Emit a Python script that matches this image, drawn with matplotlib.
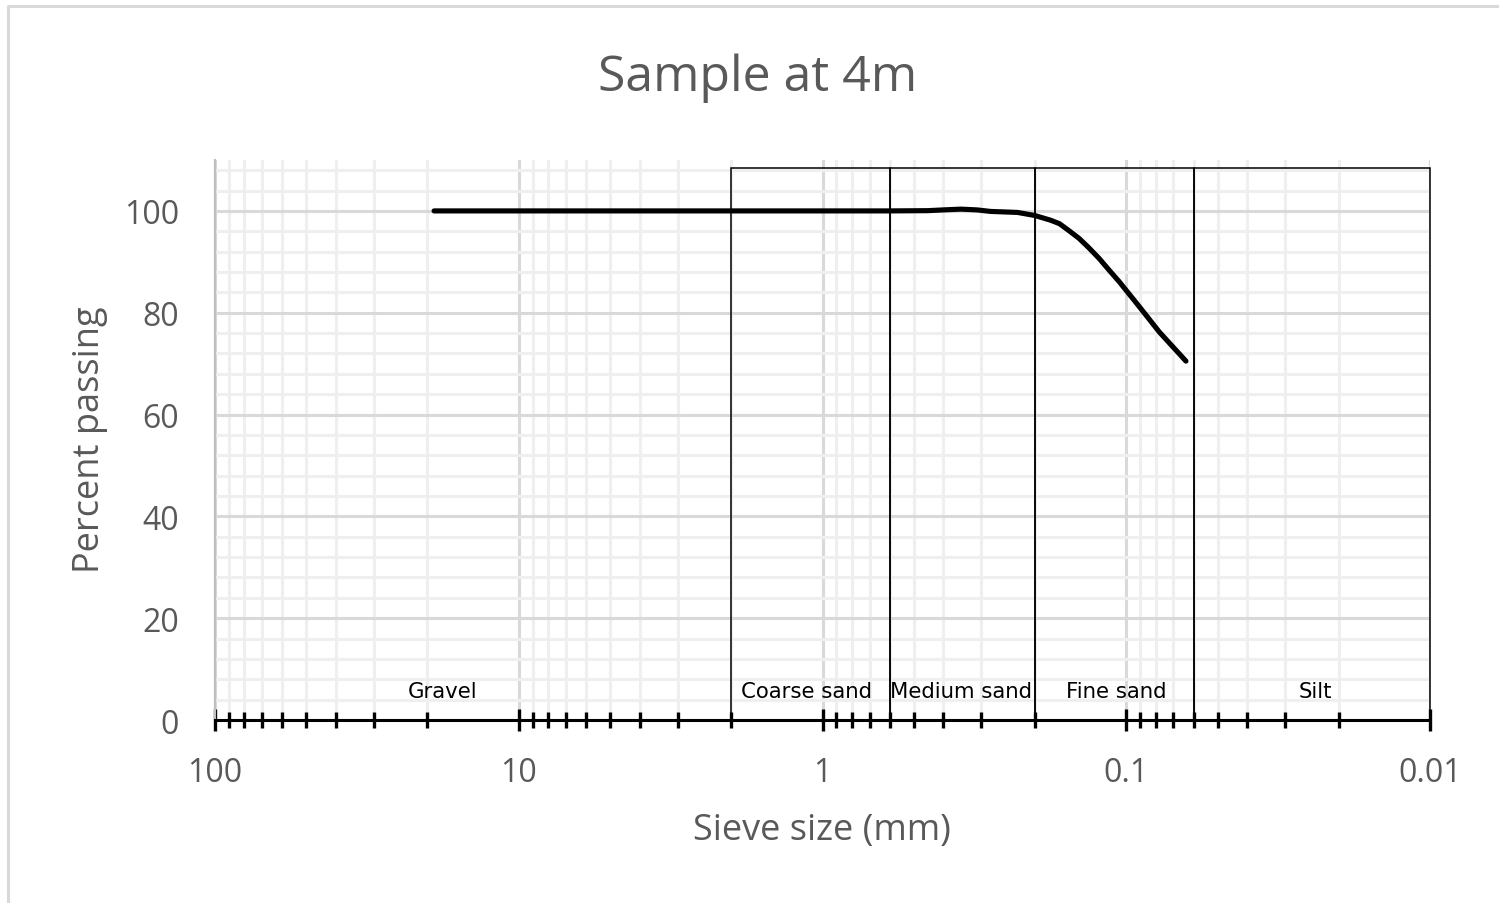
import matplotlib
matplotlib.use("Agg")
import matplotlib.pyplot as plt
from matplotlib.patches import Rectangle
from matplotlib.ticker import LogLocator, MultipleLocator, FixedLocator, NullFormatter
from matplotlib.lines import Line2D

# grading curve
sieve_mm = [19, 9.5, 4.75, 2.36, 1.18, 0.6, 0.45, 0.40, 0.35, 0.31, 0.28, 0.228,
            0.2, 0.19, 0.178, 0.166, 0.155, 0.143, 0.133, 0.123, 0.114, 0.1055,
            0.0906, 0.0778, 0.0636]
passing = [100, 100, 100, 100, 100, 100, 100.05, 100.2, 100.35, 100.2, 99.9, 99.7,
           99.1, 98.7, 98.2, 97.5, 96.2, 94.6, 92.8, 90.7, 88.4, 86.1,
           81.2, 76.2, 70.5]

# soil classes
zone_names = ["Coarse sand", "Medium sand", "Fine sand", "Silt"]
zone_from = [2.0, 0.6, 0.2, 0.06]
zone_to = [0.6, 0.2, 0.06, 0.01]
zone_top = 108.5

label_names = ["Gravel", "Coarse sand", "Medium sand", "Fine sand", "Silt"]
label_x = [17.8, 1.13, 0.349, 0.108, 0.0239]
label_y = 5.6

major_x = [100, 10, 1, 0.1, 0.01]
major_x_labels = ["100", "10", "1", "0.1", "0.01"]

grey_text = "#595959"
excel_font = ["Open Sans", "DejaVu Sans"]

fig = plt.figure(figsize=(14.99, 9.04), dpi=100)
ax = fig.add_axes([215 / 1499, 1 - 721 / 904, (1430 - 215) / 1499, (721 - 161) / 904])

ax.set_xscale("log")
ax.set_xlim(100, 0.01)
ax.set_ylim(0, 110)

ax.xaxis.set_major_locator(FixedLocator(major_x))
ax.set_xticklabels(major_x_labels)
ax.xaxis.set_minor_locator(LogLocator(base=10, subs=range(2, 10), numticks=20))
ax.xaxis.set_minor_formatter(NullFormatter())
ax.yaxis.set_major_locator(MultipleLocator(20))
ax.yaxis.set_minor_locator(MultipleLocator(4))

ax.grid(which="major", color="#d9d9d9", lw=2.2, zorder=0)
ax.grid(which="minor", color="#efefef", lw=2.2, zorder=0)
ax.set_axisbelow(True)

for s in ["top", "right"]:
    ax.spines[s].set_visible(False)
ax.spines["left"].set_color("#bfbfbf")
ax.spines["left"].set_linewidth(1.6)
ax.spines["bottom"].set_color("black")
ax.spines["bottom"].set_linewidth(2.2)
ax.spines["bottom"].set_zorder(5)

ax.tick_params(axis="x", which="major", direction="inout", length=16, width=2.4,
               color="black", pad=18, labelsize=23, labelcolor=grey_text)
ax.tick_params(axis="x", which="minor", direction="inout", length=12, width=2.4, color="black")
ax.tick_params(axis="y", which="both", length=0, pad=26, labelsize=23, labelcolor=grey_text)
for lbl in ax.get_xticklabels() + ax.get_yticklabels():
    lbl.set_family(excel_font)

for x0, x1 in zip(zone_from, zone_to):
    ax.add_patch(Rectangle((x0, 0), x1 - x0, zone_top, fill=False, edgecolor="black",
                           lw=1.1, zorder=3, clip_on=False))

for name, x in zip(label_names, label_x):
    ax.text(x, label_y, name, ha="center", va="center", fontsize=15.3,
            family="DejaVu Sans", color="black", zorder=4)

ax.plot(sieve_mm, passing, color="black", lw=3.7, solid_capstyle="round",
        solid_joinstyle="round", zorder=6)

fig.text(758 / 1499, 1 - 78 / 904, "Sample at 4m", ha="center", va="center",
         fontsize=36, color=grey_text, family=excel_font)
fig.text(822 / 1499, 1 - 831 / 904, "Sieve size (mm)", ha="center", va="center",
         fontsize=26, color=grey_text, family=excel_font)
fig.text(90 / 1499, 1 - 440 / 904, "Percent passing", ha="center", va="center",
         rotation=90, fontsize=26, color=grey_text, family=excel_font)

# chart area border (only top and left edges are visible in the picture)
fig.add_artist(Line2D([8 / 1499, 8 / 1499, 1.0], [0.0, 1 - 7 / 904, 1 - 7 / 904],
                      transform=fig.transFigure, color="#d9d9d9", lw=2.2))

fig.savefig("out.png", dpi=100)
